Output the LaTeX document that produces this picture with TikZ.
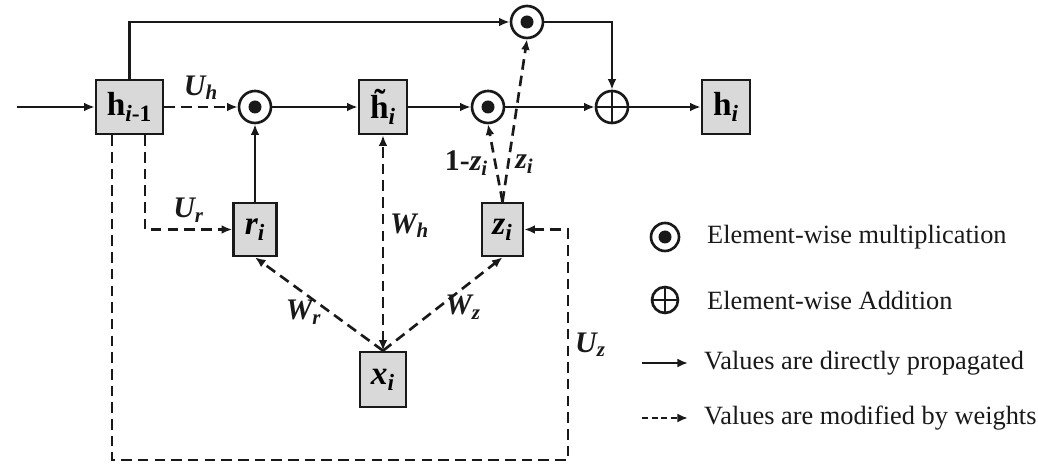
\documentclass[tikz,border=0pt]{standalone}
\usepackage{fontspec}
\setmainfont{Liberation Serif}
\usepackage{tikz}
\usetikzlibrary{arrows.meta, positioning, calc}
\definecolor{grugray}  {RGB}{217, 217, 217}
\definecolor{grudark}  {RGB}{ 25,  25,  25}

\begin{document}
\begin{tikzpicture}[x=0.02cm, y=-0.02cm,
		gbox/.style={draw=grudark, line width=1.5pt, fill=grugray, minimum height=1.08cm, inner sep=0pt, font=\fontsize{19}{19}\selectfont\bfseries},
		gvar/.style={gbox, font=\fontsize{19}{19}\selectfont\bfseries\itshape},
		gmul/.style={draw=grudark, circle, line width=1.5pt, minimum size=0.64cm, inner sep=0pt, fill=white, path picture={\fill[grudark] (path picture bounding box.center) circle (0.13cm);}},
		gadd/.style={draw=grudark, circle, line width=1.5pt, minimum size=0.64cm, inner sep=0pt, fill=white, path picture={\draw[grudark, line width=1.2pt] (path picture bounding box.north) -- (path picture bounding box.south) (path picture bounding box.west) -- (path picture bounding box.east);}},
		solidflow/.style={draw=grudark, line width=1.5pt, -{Latex[length=6pt,width=5pt]}},
		weightflow/.style={solidflow, dash pattern=on 6pt off 3.5pt},
		wlabel/.style={font=\fontsize{17}{17}\selectfont\bfseries\itshape, text=grudark},
		legtext/.style={anchor=west, font=\fontsize{15}{15}\selectfont, text=grudark}
	]
	\useasboundingbox (0,0) rectangle (1038,465);
	\node[gbox, minimum width=1.34cm] (hprev) at (129.5,107) {h\textsubscript{\textit{i}-1}};
	\node[gmul] (mulr) at (255,107) {};
	\node[gbox, minimum width=0.96cm] (htil) at (383,107) {\~{h}\textsubscript{\textit{i}}};
	\node[gmul] (mulz) at (488,107) {};
	\node[gmul] (multop) at (527,22) {};
	\node[gadd] (addh) at (612,107) {};
	\node[gbox, minimum width=0.96cm] (hout) at (726,107) {h\textsubscript{\textit{i}}};
	\node[gvar, minimum width=0.86cm, minimum height=1.06cm] (rgate) at (255,229.5) {r\textsubscript{i}};
	\node[gvar, minimum width=0.82cm, minimum height=1.06cm] (zgate) at (502.5,229.5) {z\textsubscript{i}};
	\node[gvar, minimum width=0.92cm, minimum height=1.1cm] (xin) at (383,379.5) {x\textsubscript{i}};
	\coordinate (inp) at (17,107);
	\coordinate (loopc) at (568,460);
	\draw[solidflow] (inp) -- (hprev);
	\draw[solidflow] (hprev.north) |- (multop);
	\draw[weightflow] (hprev) -- (mulr) node[midway, above, wlabel] {U\textsubscript{h}};
	\draw[solidflow] (mulr) -- (htil);
	\draw[solidflow] (htil) -- (mulz);
	\draw[solidflow] (mulz) -- (addh);
	\draw[solidflow] (addh) -- (hout);
	\draw[solidflow] (multop) -| (addh);
	\draw[solidflow] (rgate) -- (mulr);
	\draw[weightflow] ([xshift=0.31cm]hprev.south) |- (rgate) node[pos=0.75, above, wlabel] {U\textsubscript{r}};
	\draw[weightflow] ([xshift=-0.35cm]hprev.south) |- (loopc) |- (zgate) node[pos=0.25, right, wlabel] {U\textsubscript{z}};
	\draw[weightflow] (xin.north) -- (rgate.south) node[pos=0.62, below, wlabel] {W\textsubscript{r}};
	\draw[weightflow] (xin.north) -- (zgate.south) node[pos=0.67, below, wlabel] {W\textsubscript{z}};
	\draw[weightflow, {Latex[length=6pt,width=5pt]}-{Latex[length=6pt,width=5pt]}] (xin.north) -- (htil.south) node[pos=0.58, right, wlabel] {W\textsubscript{h}};
	\draw[weightflow] (zgate.north) -- (mulz.south) node[midway, left, wlabel] {{\upshape 1-}z\textsubscript{i}};
	\draw[weightflow] (zgate.north) -- (multop.south) node[pos=0.23, right, wlabel] {z\textsubscript{i}};
	\node[gmul, minimum size=0.56cm] (legmul) at (665,237) {};
	\node[legtext] (legmultxt) at (701,237) {Element-wise multiplication};
	\node[gadd, minimum size=0.52cm] (legadd) at (665,300) {};
	\node[legtext] (legaddtxt) at (701,300) {Element-wise Addition};
	\coordinate (legsolidA) at (642,363);
	\coordinate (legsolidB) at (688,363);
	\coordinate (legdashA) at (642,418);
	\coordinate (legdashB) at (688,418);
	\draw[solidflow, line width=1.2pt] (legsolidA) -- (legsolidB);
	\draw[weightflow, line width=1.2pt, dash pattern=on 3.5pt off 2pt] (legdashA) -- (legdashB);
	\node[legtext] (legsolidtxt) at (698,363) {Values are directly propagated};
	\node[legtext] (legdashtxt) at (698,418) {Values are modified by weights};
\end{tikzpicture}
\end{document}
